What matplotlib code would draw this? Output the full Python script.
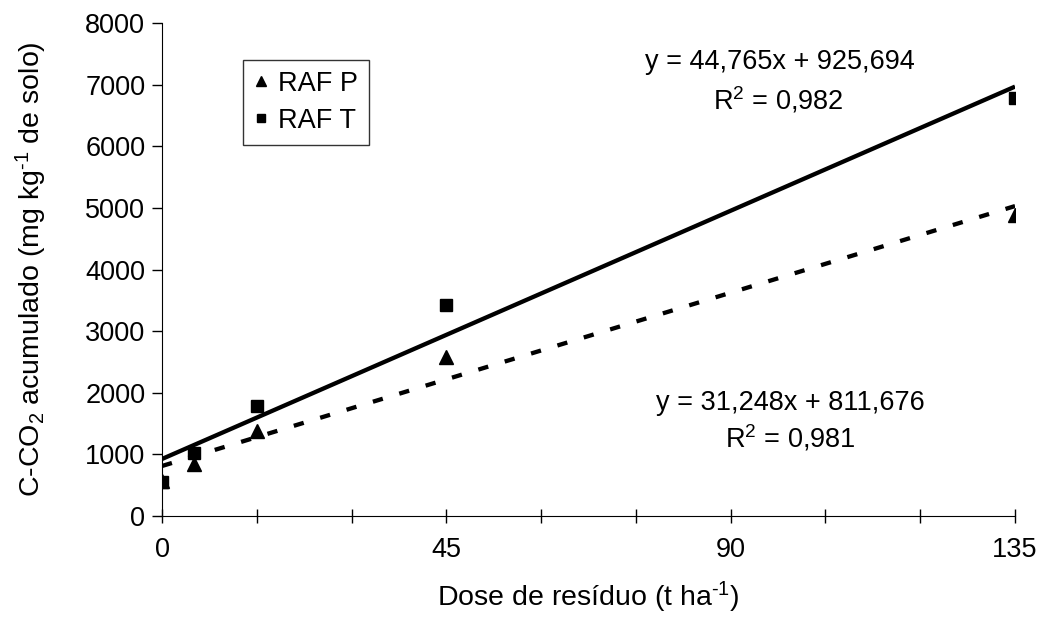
import numpy as np
import matplotlib
matplotlib.use("Agg")
import matplotlib.pyplot as plt
from matplotlib.ticker import MultipleLocator

plt.rcParams['font.family'] = ['Liberation Sans', 'DejaVu Sans']
plt.rcParams['mathtext.fontset'] = 'custom'
plt.rcParams['mathtext.rm'] = 'Liberation Sans'
plt.rcParams['mathtext.it'] = 'Liberation Sans'

# Data
dose = [0, 5, 15, 45, 135]
raf_p = [560, 840, 1380, 2580, 4890]
raf_t = [550, 1020, 1790, 3425, 6790]

# Fitted equations shown on the chart
coef_t = (44.765, 925.694)
coef_p = (31.248, 811.676)
eq_t = "y = 44,765x + 925,694"
r2_t = "R$^2$ = 0,982"
eq_p = "y = 31,248x + 811,676"
r2_p = "R$^2$ = 0,981"

fig = plt.figure(figsize=(10.4, 6.41), dpi=100)
ax = fig.add_axes([0.1558, 0.195, 0.8202, 0.769])

# regression lines over the dose range
xfit = np.array([0, 135])
ax.plot(xfit, coef_t[0] * xfit + coef_t[1], color='black', linewidth=3.1, solid_capstyle='butt')
ax.plot(xfit, coef_p[0] * xfit + coef_p[1], color='black', linewidth=3.1,
        linestyle=(0, (2.4, 4.0)), dash_capstyle='butt')

ax.plot(dose, raf_p, linestyle='none', marker='^', markersize=10, color='black', label='RAF P')
ax.plot(dose, raf_t, linestyle='none', marker='s', markersize=9, color='black', label='RAF T')

ax.set_xlim(0, 135)
ax.set_ylim(0, 8000)
ax.xaxis.set_major_locator(MultipleLocator(45))
ax.xaxis.set_minor_locator(MultipleLocator(15))
ax.yaxis.set_major_locator(MultipleLocator(1000))

for s in ['top', 'right']:
    ax.spines[s].set_visible(False)

ax.tick_params(axis='y', direction='out', length=7, width=1, labelsize=19.5, pad=5)
ax.tick_params(axis='x', which='both', direction='inout', length=10, width=1, labelsize=19.5, pad=10)

ax.set_xlabel("Dose de resíduo (t ha$^{\\text{-1}}$)", fontsize=20.5, labelpad=12)
ax.set_ylabel("C-CO$_2$ acumulado (mg kg$^{\\text{-1}}$ de solo)", fontsize=20.5, labelpad=26)

# equation annotations (positions in pixels of the 1040x641 figure)
for txt, xp, yp in [(eq_t, 780, 62), (r2_t, 778, 100), (eq_p, 790, 403), (r2_p, 790, 438)]:
    fig.text(xp / 1040, 1 - yp / 641, txt, fontsize=19.5, ha='center', va='center')

leg = ax.legend(loc='upper left', bbox_to_anchor=(243 / 1040, 1 - 60 / 641),
                bbox_transform=fig.transFigure, fontsize=19.5, frameon=True,
                fancybox=False, handlelength=0.5, handletextpad=0.4,
                borderpad=0.4, labelspacing=0.4, markerscale=0.7,
                borderaxespad=0)
leg.get_frame().set_edgecolor('black')
leg.get_frame().set_linewidth(1.0)

fig.savefig("out.png", dpi=100)
